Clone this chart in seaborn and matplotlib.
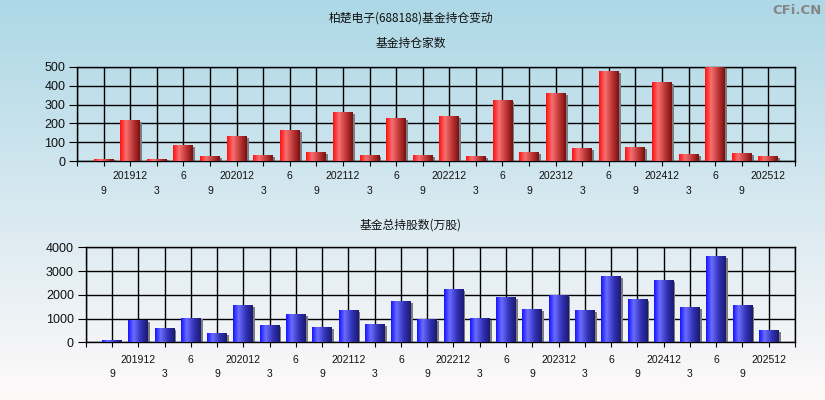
import numpy as np
import pandas as pd
import matplotlib
matplotlib.use("Agg")
import matplotlib.pyplot as plt
import matplotlib.transforms as mtransforms
from matplotlib.patches import Rectangle
from matplotlib.colors import LinearSegmentedColormap
import seaborn as sns

# ---------------- data ----------------
periods = ['201909', '201912', '202003', '202006', '202009', '202012', '202103', '202106',
           '202109', '202112', '202203', '202206', '202209', '202212', '202303', '202306',
           '202309', '202312', '202403', '202406', '202409', '202412', '202503', '202506',
           '202509', '202512']
tick_labels = ['9', '201912', '3', '6', '9', '202012', '3', '6', '9', '202112', '3', '6',
               '9', '202212', '3', '6', '9', '202312', '3', '6', '9', '202412', '3', '6',
               '9', '202512']
fund_counts = [10, 213, 10, 81, 23, 128, 28, 160, 44, 255, 28, 224, 28, 234, 23, 319,
               44, 356, 65, 472, 70, 414, 33, 498, 39, 23]
total_shares = [56, 898, 561, 1010, 351, 1530, 688, 1151, 603, 1319, 730, 1698, 940, 2204,
                996, 1867, 1361, 1951, 1319, 2751, 1782, 2582, 1446, 3593, 1530, 477]

main_title = '柏楚电子(688188)基金持仓变动'
sub_title1 = '基金持仓家数'
sub_title2 = '基金总持股数(万股)'
watermark = 'CFi.CN'

# ---------------- style ----------------
sns.set_theme(style='white')
plt.rcParams['font.family'] = ['Liberation Sans', 'Noto Sans CJK SC', 'DejaVu Sans']
cjk = ['Noto Sans CJK SC', 'DejaVu Sans']

W, H, DPI = 825, 400, 100
fig = plt.figure(figsize=(W / DPI, H / DPI), dpi=DPI)

# background gradient
bg = fig.add_axes([0, 0, 1, 1], zorder=-10)
bg_cmap = LinearSegmentedColormap.from_list('bg', ['#add8e6', '#d6e8f0', '#fffafa'])
bg.imshow(np.linspace(0, 1, 256).reshape(-1, 1), cmap=bg_cmap, aspect='auto',
          extent=[0, 1, 0, 1], origin='upper')
bg.set_axis_off()

red_cmap = LinearSegmentedColormap.from_list(
    'r', [(0.0, '#ff1010'), (0.3, '#f77070'), (0.65, '#c03838'), (1.0, '#7a1010')])
blue_cmap = LinearSegmentedColormap.from_list(
    'b', [(0.0, '#1414ff'), (0.28, '#6c6cff'), (0.65, '#3232b8'), (1.0, '#1a1a70')])


def panel(rect, values, ymax, ystep, cmap, base_color, pad_major, pad_minor):
    ax = fig.add_axes(rect)
    ax.set_facecolor('none')
    df = pd.DataFrame({'period': periods, 'value': values})
    sns.barplot(data=df, x='period', y='value', order=periods, color=base_color,
                width=0.75, ax=ax, zorder=3, linewidth=0)
    grad = np.linspace(0, 1, 64).reshape(1, -1)
    shadow_tr = ax.transData + mtransforms.ScaledTranslation(2 / DPI, -1 / DPI,
                                                             fig.dpi_scale_trans)
    for p in list(ax.patches):
        x0, y0 = p.get_x(), p.get_y()
        w, h = p.get_width(), p.get_height()
        p.set_edgecolor('none')
        p.set_linewidth(0)
        ax.add_patch(Rectangle((x0, y0), w, h, transform=shadow_tr,
                               facecolor='#7c7c7c', edgecolor='none', linewidth=0,
                               zorder=2.5))
        ax.imshow(grad, cmap=cmap, aspect='auto', extent=[x0, x0 + w, y0, y0 + h],
                  zorder=4, interpolation='bilinear')
    n = len(periods)
    ax.set_xlim(-1, n)
    ax.set_ylim(0, ymax)
    ax.set_xlabel('')
    ax.set_ylabel('')
    ax.xaxis.remove_overlapping_locs = False
    # major ticks: all slots (grid + tick marks), upper-row labels
    major = list(range(-1, n + 1))
    major_labels = [''] + [t if i % 2 == 1 else '' for i, t in enumerate(tick_labels)] + ['']
    ax.set_xticks(major)
    ax.set_xticklabels(major_labels)
    # minor ticks: lower-row labels
    minor = [i for i in range(n) if i % 2 == 0]
    ax.set_xticks(minor, minor=True)
    ax.set_xticklabels([tick_labels[i] for i in minor], minor=True)
    ax.tick_params(axis='x', which='major', direction='out', length=3.3, width=0.8,
                   color='black', pad=pad_major, labelsize=7.5, labelcolor='#111111',
                   bottom=True)
    ax.tick_params(axis='x', which='minor', length=0, pad=pad_minor, labelsize=7.5,
                   labelcolor='#111111', bottom=True)
    ax.set_yticks(np.arange(0, ymax + 1, ystep))
    ax.set_yticklabels([str(v) for v in np.arange(0, ymax + 1, ystep)])
    ax.tick_params(axis='y', direction='out', length=6, width=0.8, color='black',
                   pad=2.5, labelsize=9, labelcolor='#111111', left=True)
    ax.grid(True, which='major', color='black', linewidth=1.0, zorder=1)
    ax.set_axisbelow(True)
    for s in ax.spines.values():
        s.set_visible(True)
        s.set_color('black')
        s.set_linewidth(1.0)
    return ax


ax1 = panel([77 / W, 1 - 161.3 / H, (795 - 77) / W, (161.3 - 66.7) / H],
            fund_counts, 500, 100, red_cmap, '#e03030', 4.0, 18.0)
ax2 = panel([85.7 / W, 1 - 342.3 / H, (795 - 85.7) / W, (342.3 - 247.3) / H],
            total_shares, 4000, 1000, blue_cmap, '#3030e0', 5.5, 19.5)

fig.text(411 / W, 1 - 18 / H, main_title, ha='center', va='center', fontsize=8.5,
         family=cjk, color='#111111')
fig.text(411 / W, 1 - 43 / H, sub_title1, ha='center', va='center', fontsize=8.5,
         family=cjk, color='#111111')
fig.text(411 / W, 1 - 225 / H, sub_title2, ha='center', va='center', fontsize=8.5,
         family=cjk, color='#111111')
fig.text(822 / W, 1 - 10 / H, watermark, ha='right', va='center', fontsize=9.5,
         fontweight='bold', color='#858585', family=['DejaVu Sans'])

fig.savefig('out.png', dpi=DPI)
